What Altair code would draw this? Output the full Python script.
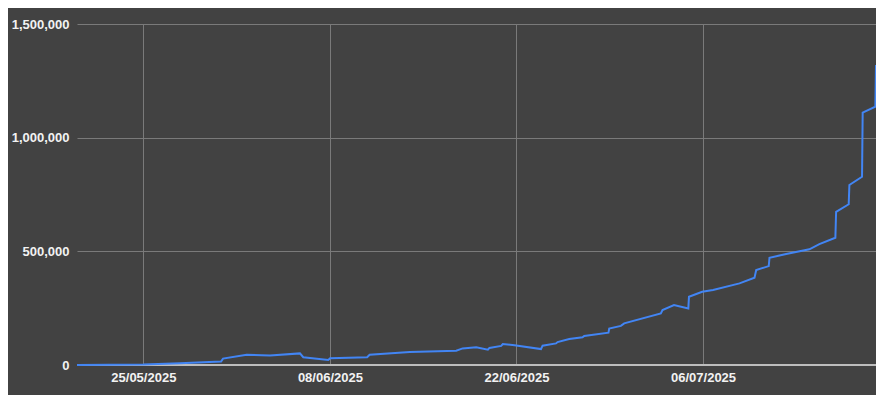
import altair as alt
import pandas as pd

times = [
    "2025-05-20T00:30", "2025-05-22T12:00", "2025-05-25T00:00", "2025-05-27T18:00",
    "2025-05-30T20:00", "2025-05-30T23:30", "2025-06-01T18:00", "2025-06-03T12:00",
    "2025-06-05T18:00", "2025-06-06T00:00", "2025-06-07T21:00", "2025-06-08T00:30",
    "2025-06-10T19:00", "2025-06-10T23:30", "2025-06-14T00:00", "2025-06-17T11:30",
    "2025-06-17T23:00", "2025-06-18T23:30", "2025-06-19T20:30", "2025-06-19T23:20",
    "2025-06-20T20:30", "2025-06-20T23:20", "2025-06-21T20:20", "2025-06-23T20:10",
    "2025-06-23T23:00", "2025-06-24T23:10", "2025-06-25T02:00", "2025-06-25T23:00",
    "2025-06-26T23:00", "2025-06-27T02:00", "2025-06-28T21:40", "2025-06-28T23:00",
    "2025-06-29T20:00", "2025-06-30T02:00", "2025-07-02T20:00", "2025-07-02T23:00",
    "2025-07-03T19:40", "2025-07-04T21:30", "2025-07-04T22:40", "2025-07-05T22:30",
    "2025-07-06T18:00", "2025-07-08T17:40", "2025-07-09T20:40", "2025-07-09T23:45",
    "2025-07-10T22:20", "2025-07-10T23:40", "2025-07-12T05:45", "2025-07-13T23:30",
    "2025-07-14T17:30", "2025-07-15T22:20", "2025-07-15T23:40", "2025-07-16T22:20",
    "2025-07-16T23:35", "2025-07-17T22:20", "2025-07-17T23:30", "2025-07-18T22:20",
    "2025-07-18T23:30",
]
values = [
    500, 1200, 2500, 8000,
    15000, 28000, 45000, 42000,
    51000, 34000, 22000, 30000,
    34000, 45000, 57000, 63000,
    73000, 78000, 67000, 75000,
    84000, 92000, 87000, 70000,
    85000, 95000, 101000, 114000,
    122000, 128000, 142000, 160000,
    172000, 183000, 227000, 242000,
    264000, 249000, 300000, 322000,
    330000, 359000, 384000, 418000,
    435000, 472000, 488000, 509000,
    532000, 560000, 674000, 707000,
    792000, 828000, 1110000, 1136000,
    1320000,
]
x_ticks = [(2025, 5, 25), (2025, 6, 8), (2025, 6, 22), (2025, 7, 6)]
y_ticks = [0, 500000, 1000000, 1500000]

df = pd.DataFrame({"t": times, "v": values})

tick_values = [alt.DateTime(year=y, month=m, date=d) for (y, m, d) in x_ticks]

base_x = alt.X(
    "t:T",
    title=None,
    scale=alt.Scale(nice=False),
    axis=alt.Axis(values=tick_values, format="%d/%m/%Y", labelPadding=6),
)

line = alt.Chart(df).mark_line(color="#4285F4", strokeWidth=2).encode(
    x=base_x,
    y=alt.Y(
        "v:Q",
        title=None,
        scale=alt.Scale(domain=[0, 1500000], nice=False),
        axis=alt.Axis(values=y_ticks, format=",d", labelPadding=8),
    ),
)

zero = alt.Chart(pd.DataFrame({"z": [0]})).mark_rule(color="#bdbdbd", strokeWidth=2).encode(
    y=alt.Y("z:Q")
)

chart = (
    alt.layer(zero, line)
    .properties(
        width=799,
        height=341,
        autosize=alt.AutoSizeParams(type="none"),
        padding={"left": 69, "top": 16, "right": 0, "bottom": 30},
        background="#424242",
    )
    .configure_view(stroke=None)
    .configure_axis(
        domain=False,
        ticks=False,
        gridColor="#7a7a7a",
        gridWidth=1,
        labelColor="#f2f2f2",
        labelFont="Liberation Sans",
        labelFontSize=13,
        labelFontWeight="bold",
    )
)

chart.save("out.html", embed_options={"renderer": "svg", "actions": False})
